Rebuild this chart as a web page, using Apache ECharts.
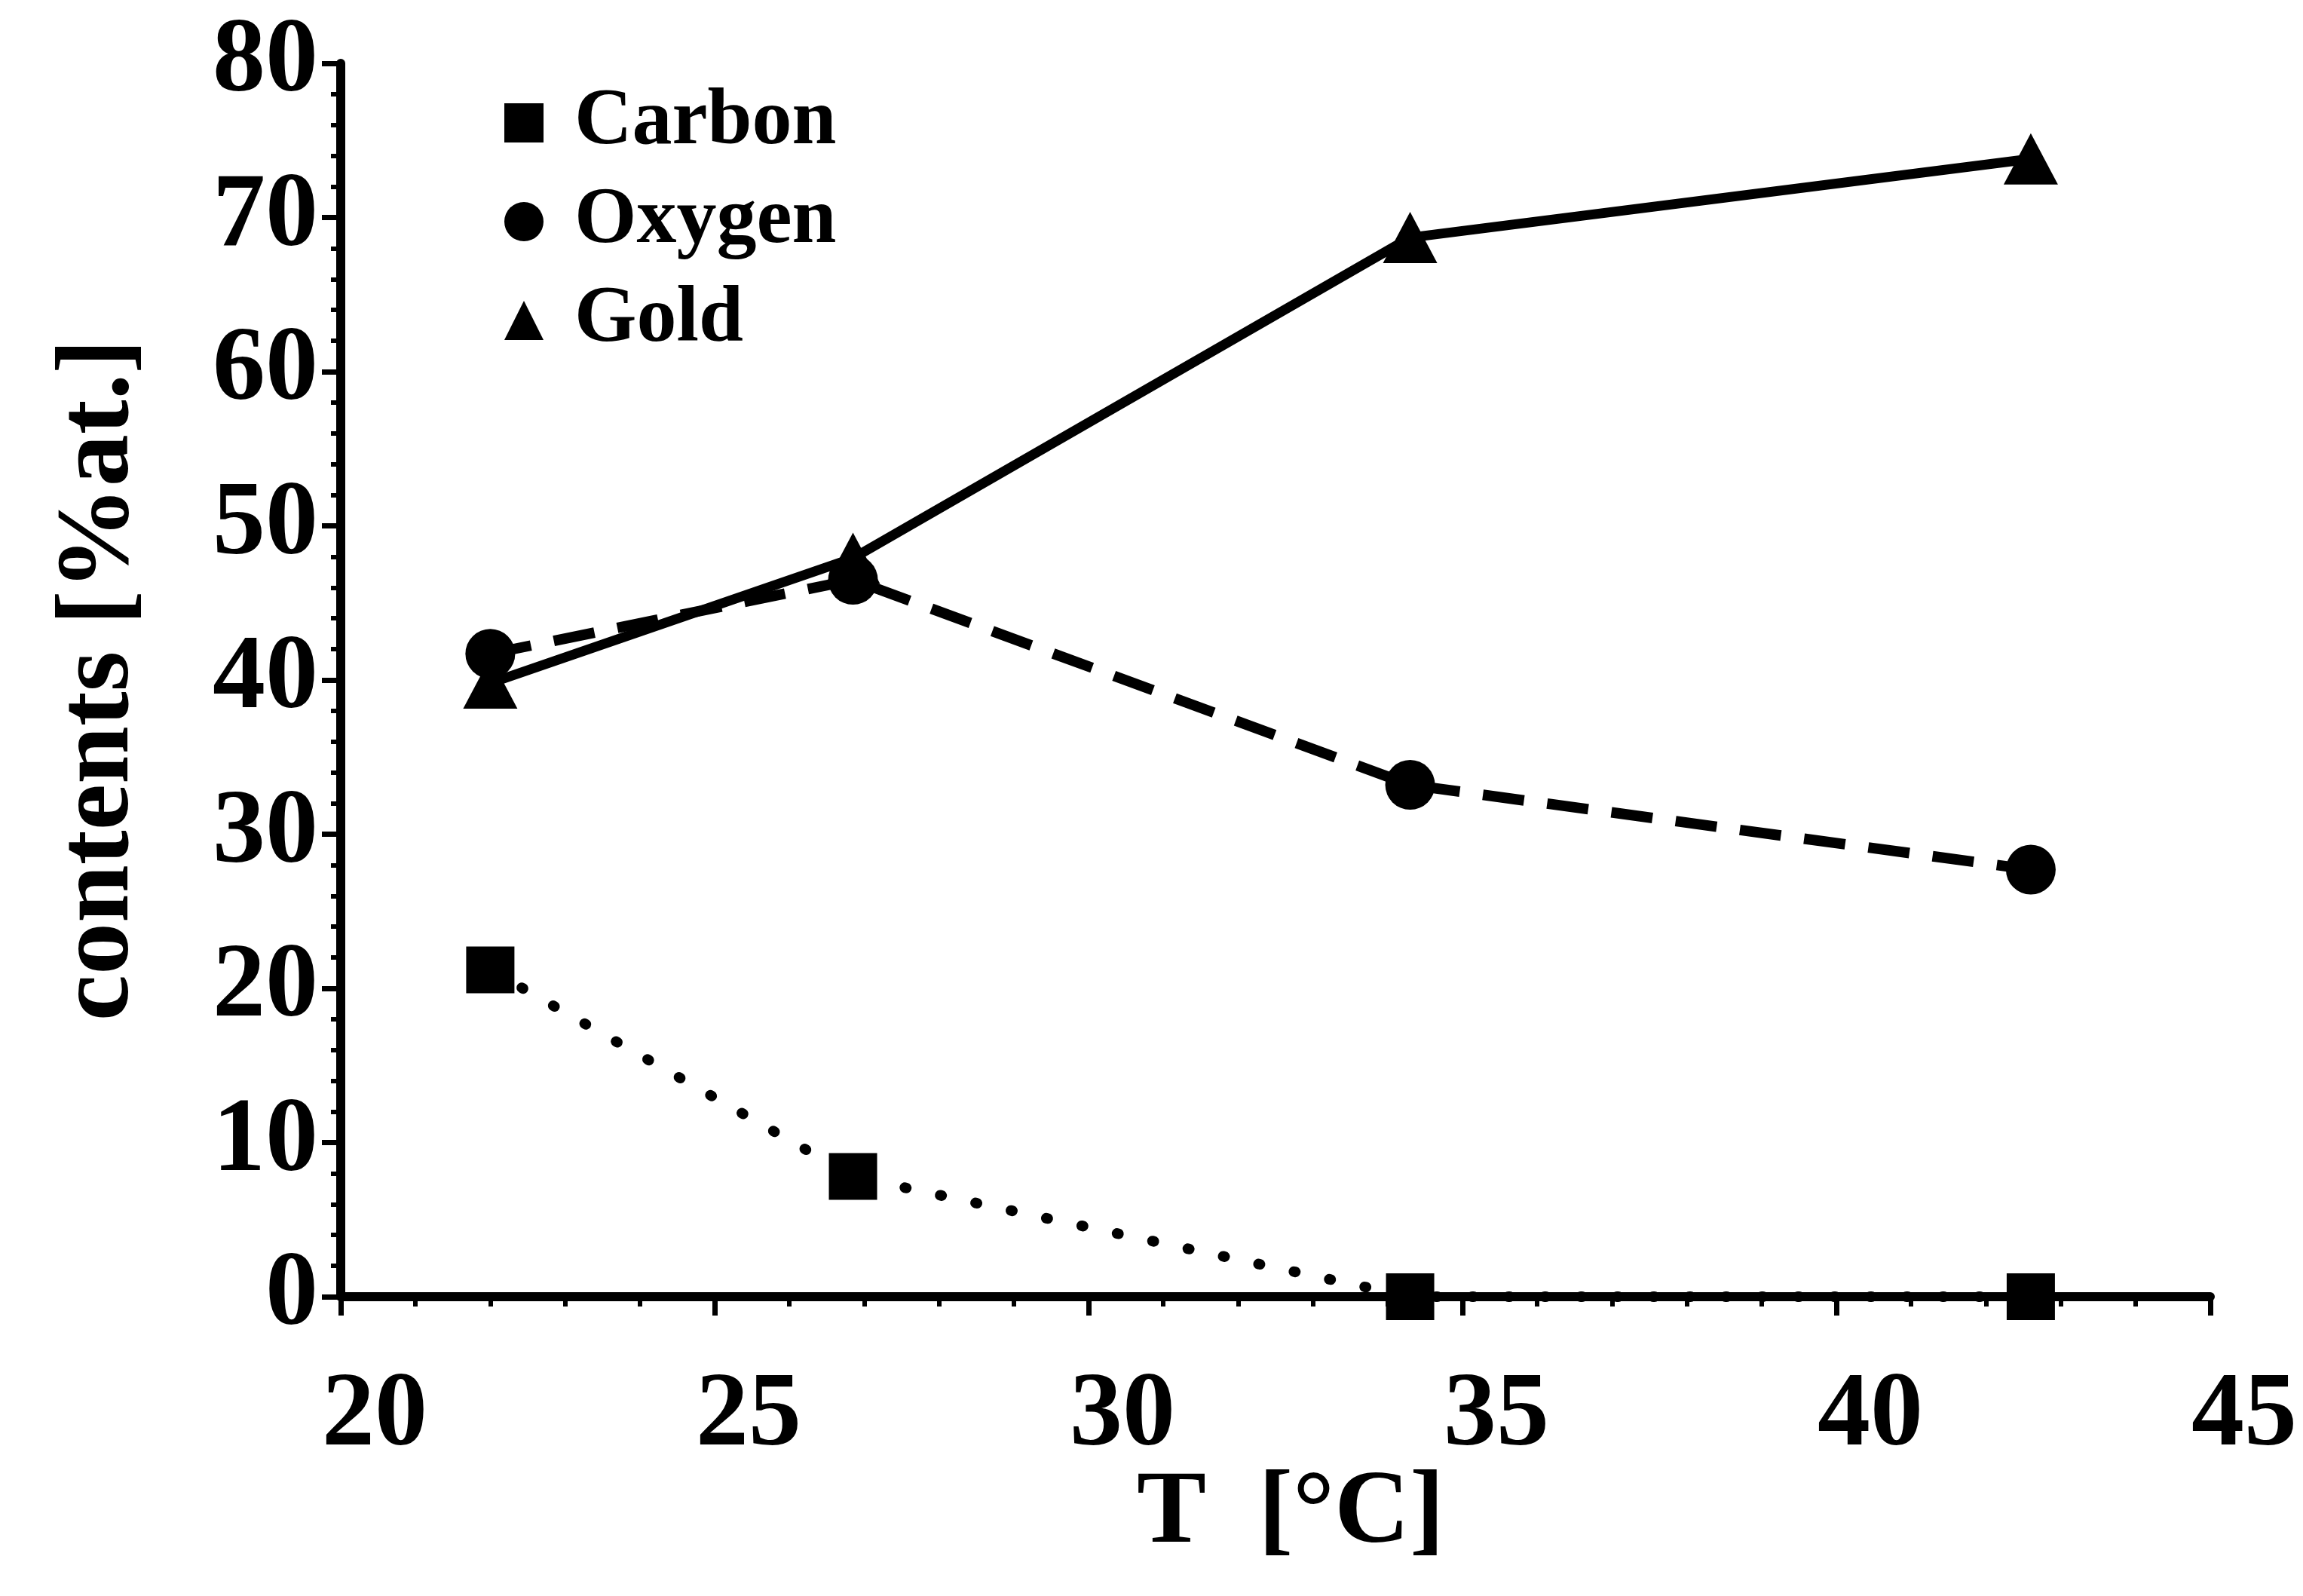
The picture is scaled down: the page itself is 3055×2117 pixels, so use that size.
<!DOCTYPE html>
<html>
<head>
<meta charset="utf-8">
<script src="https://cdn.jsdelivr.net/npm/echarts@6/dist/echarts.min.js"></script>
<style>
html,body{margin:0;padding:0;background:#fff;}
#chart{width:3055px;height:2117px;}
</style>
</head>
<body>
<div id="chart"></div>
<script>
// Data
var temperatures = [22.0, 26.85, 34.3, 42.6];
var carbon = [21.2, 7.8, 0.0, 0.0];
var oxygen = [41.7, 46.5, 33.2, 27.7];
var gold = [39.8, 47.9, 68.7, 73.8];
var seriesNames = ['Carbon', 'Oxygen', 'Gold'];
var xTitle = 'T  [°C]';
var yTitle = 'contents [%at.]';

function pairs(xs, ys) {
  return xs.map(function (x, i) { return [x, ys[i]]; });
}

var FONT = 'Liberation Serif';
var chart = echarts.init(document.getElementById('chart'), null, {renderer: 'canvas'});

var axisCommon = {
  axisLine: {show: true, onZero: false, lineStyle: {color: '#000', width: 12}},
  axisTick: {show: true, inside: false, length: 25, lineStyle: {color: '#000', width: 7}},
  minorTick: {show: true, splitNumber: 5, length: 13, lineStyle: {color: '#000', width: 6}},
  splitLine: {show: false},
  minorSplitLine: {show: false}
};

chart.setOption({
  backgroundColor: '#fff',
  animation: false,
  grid: {left: 452, right: 123, top: 84, bottom: 397, containLabel: false},
  legend: {
    orient: 'vertical',
    left: 664,
    top: 98,
    itemWidth: 52,
    itemHeight: 52,
    itemGap: 11,
    data: [
      {name: 'Carbon', icon: 'rect'},
      {name: 'Oxygen', icon: 'circle'},
      {name: 'Gold', icon: 'triangle'}
    ],
    textStyle: {fontFamily: FONT, fontWeight: 'bold', fontSize: 106, color: '#000', lineHeight: 120, padding: [0, 0, 0, 36]},
    itemStyle: {color: '#000'}
  },
  xAxis: Object.assign({
    type: 'value',
    min: 20, max: 45, interval: 5,
    name: xTitle,
    nameLocation: 'middle',
    nameGap: 220,
    nameMoveOverlap: false,
    nameTextStyle: {fontFamily: FONT, fontWeight: 'bold', fontSize: 138, color: '#000', padding: [0, 0, 0, 40]},
    axisLabel: {fontFamily: FONT, fontWeight: 'bold', fontSize: 140, color: '#000', margin: 90, padding: [0, 0, 0, 90]}
  }, axisCommon),
  yAxis: Object.assign({
    type: 'value',
    min: 0, max: 80, interval: 10,
    name: yTitle,
    nameLocation: 'middle',
    nameRotate: 90,
    nameGap: 250,
    nameMoveOverlap: false,
    nameTextStyle: {fontFamily: FONT, fontWeight: 'bold', fontSize: 138, color: '#000'},
    axisLabel: {fontFamily: FONT, fontWeight: 'bold', fontSize: 140, color: '#000', margin: 30, padding: [16, 0, 0, 0]}
  }, axisCommon),
  series: [
    {
      name: seriesNames[0], type: 'line', data: pairs(temperatures, carbon),
      symbol: 'rect', symbolSize: [64, 62],
      itemStyle: {color: '#000'},
      lineStyle: {color: '#000', width: 14, type: [2, 46], cap: 'round'},
      z: 3
    },
    {
      name: seriesNames[1], type: 'line', data: pairs(temperatures, oxygen),
      symbol: 'circle', symbolSize: 66,
      itemStyle: {color: '#000'},
      lineStyle: {color: '#000', width: 14, type: [55, 31]},
      z: 3
    },
    {
      name: seriesNames[2], type: 'line', data: pairs(temperatures, gold),
      symbol: 'triangle', symbolSize: [72, 68],
      itemStyle: {color: '#000'},
      lineStyle: {color: '#000', width: 13, type: 'solid'},
      z: 4
    }
  ]
});
</script>
</body>
</html>
